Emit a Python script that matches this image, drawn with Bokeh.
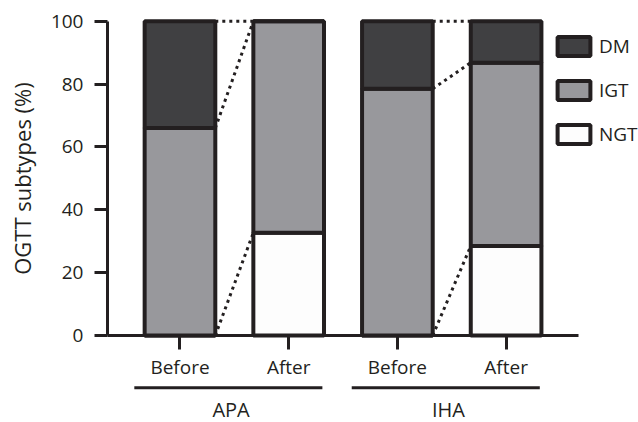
from bokeh.plotting import figure
from bokeh.models import Range1d, FixedTicker, Legend, LegendItem, Label, Arrow, ColumnDataSource
from bokeh.embed import file_html
from bokeh.resources import INLINE

# ---- data ----
groups = ["APA", "IHA"]
phases = ["Before", "After", "Before", "After"]
ngt = [0.0, 32.7, 0.0, 28.5]
igt = [66.0, 67.3, 78.5, 58.3]
dm = [34.0, 0.0, 21.5, 13.2]
subtypes = ["NGT", "IGT", "DM"]
legend_order = ["DM", "IGT", "NGT"]
y_ticks = [0, 20, 40, 60, 80, 100]
y_label = "OGTT subtypes (%)"

# ---- style / layout ----
colors = {"NGT": "#fdfdfd", "IGT": "#98989c", "DM": "#404042"}
FONT = "Open Sans"
TXT = "#231f20"
EDGE = "#231f20"
BAR_W = 0.65
FS = "19px"
X_RANGE = (-1.651, 4.218)
Y_RANGE = (-27.68, 106.59)
Y_AXIS_AT = -0.667
X_AXIS_END = 3.666
BRACKET_Y = -16.6
BRACKET_L, BRACKET_R = 0.42, 0.31
GROUP_LABEL_Y = -23.4
GROUP_LABEL_DX = -0.03

x = list(range(len(phases)))
src = ColumnDataSource(dict(x=x, NGT=ngt, IGT=igt, DM=dm))

p = figure(width=638, height=422, output_backend="svg", toolbar_location=None,
           x_range=Range1d(*X_RANGE), y_range=Range1d(*Y_RANGE), min_border=0)
p.outline_line_color = None
p.xgrid.visible = False
p.ygrid.visible = False
p.background_fill_color = "white"
p.border_fill_color = "white"

renderers = p.vbar_stack(subtypes, x="x", width=BAR_W, source=src,
                         fill_color=[colors[s] for s in subtypes],
                         line_color=EDGE, line_width=4)
rmap = dict(zip(subtypes, renderers))

# dotted connectors between stacked boundaries
cum = []
for i in range(len(phases)):
    cum.append([ngt[i], ngt[i] + igt[i], ngt[i] + igt[i] + dm[i]])
x0s, y0s, x1s, y1s = [], [], [], []
for g in range(len(groups)):
    b, a = 2 * g, 2 * g + 1
    for k in range(3):
        x0s.append(x[b] + BAR_W / 2)
        y0s.append(cum[b][k])
        x1s.append(x[a] - BAR_W / 2)
        y1s.append(cum[a][k])
p.segment(x0s, y0s, x1s, y1s, line_color=EDGE, line_width=3, line_dash="3 4")

# axes
ya = p.yaxis[0]
ya.fixed_location = Y_AXIS_AT
ya.ticker = FixedTicker(ticks=y_ticks)
ya.bounds = (y_ticks[0], y_ticks[-1])
ya.axis_line_width = 3
ya.axis_line_color = EDGE
ya.major_tick_line_width = 3
ya.major_tick_line_color = EDGE
ya.major_tick_out = 13
ya.major_tick_in = 0
ya.minor_tick_out = 0
ya.minor_tick_in = 0
ya.major_label_text_font = FONT
ya.major_label_text_font_size = FS
ya.major_label_text_color = TXT
ya.major_label_standoff = 11
ya.axis_label = y_label
ya.axis_label_text_font = FONT
ya.axis_label_text_font_size = "22px"
ya.axis_label_text_font_style = "normal"
ya.axis_label_text_color = TXT
ya.axis_label_standoff = 11

xa = p.xaxis[0]
xa.fixed_location = 0
xa.ticker = FixedTicker(ticks=x)
xa.bounds = (Y_AXIS_AT, X_AXIS_END)
xa.major_label_overrides = {i: phases[i] for i in x}
xa.axis_line_width = 3
xa.axis_line_color = EDGE
xa.major_tick_line_width = 3
xa.major_tick_line_color = EDGE
xa.major_tick_out = 14
xa.major_tick_in = 0
xa.minor_tick_out = 0
xa.minor_tick_in = 0
xa.major_label_text_font = FONT
xa.major_label_text_font_size = FS
xa.major_label_text_color = TXT
xa.major_label_standoff = 4

# group brackets and labels
for g, name in enumerate(groups):
    b, a = 2 * g, 2 * g + 1
    p.add_layout(Arrow(x_start=x[b] - BRACKET_L, y_start=BRACKET_Y,
                       x_end=x[a] + BRACKET_R, y_end=BRACKET_Y,
                       start=None, end=None, line_width=3, line_color=EDGE))
    p.add_layout(Label(x=(x[b] + x[a]) / 2 + GROUP_LABEL_DX, y=GROUP_LABEL_Y, text=name,
                       text_align="center", text_baseline="middle",
                       text_font=FONT, text_font_size="20px", text_color=TXT))

legend = Legend(items=[LegendItem(label=s, renderers=[rmap[s]]) for s in legend_order],
                location=(553, 275), orientation="vertical",
                glyph_width=41, glyph_height=24, label_height=19, spacing=18,
                padding=0, margin=0, border_line_color=None, background_fill_alpha=0,
                label_text_font=FONT, label_text_font_size=FS, label_text_color=TXT,
                label_standoff=5)
p.add_layout(legend)

open("out.html", "w").write(file_html(p, INLINE))
